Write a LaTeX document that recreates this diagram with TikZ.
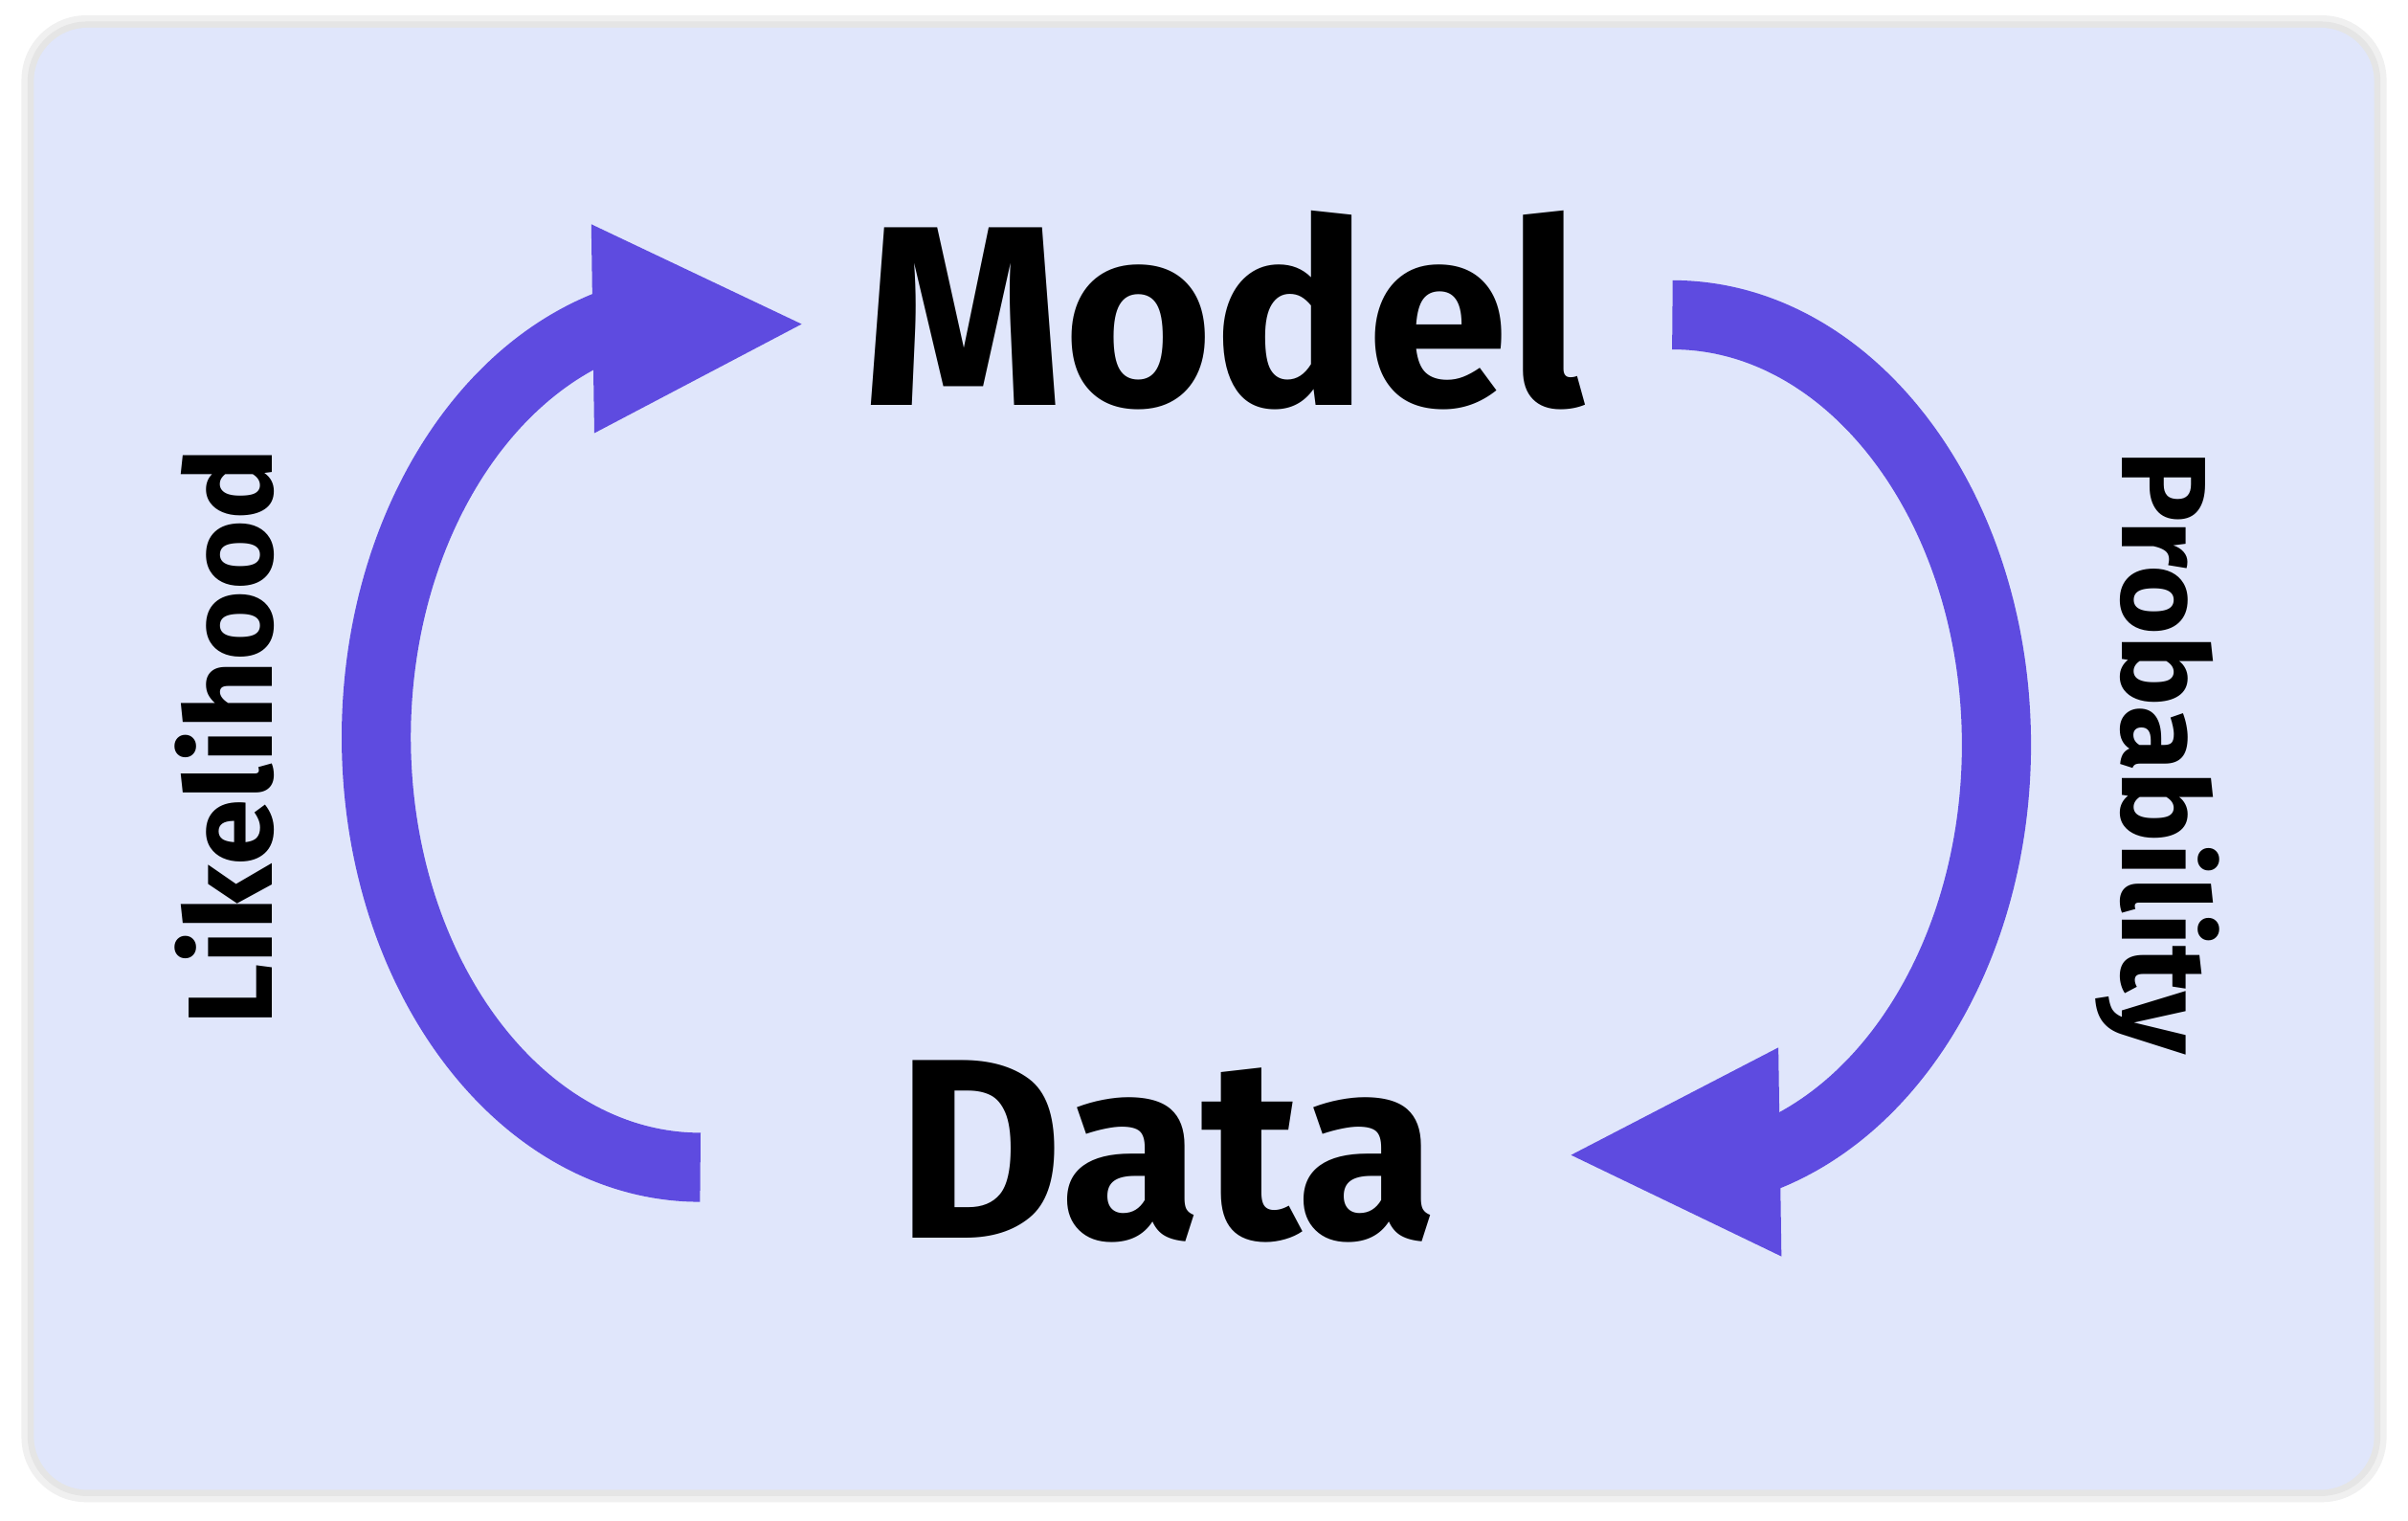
\documentclass[tikz,border=0pt]{standalone}
\usepackage{fontspec}
\setmainfont{Fira Sans}
\begin{document}
\begin{tikzpicture}[x=0.02cm,y=-0.02cm,
  arc/.style={draw=arrowc,line width=0.9cm},
  head/.style={fill=arrowc},
  big/.style={font=\fontsize{95}{95}\selectfont\bfseries},
  side/.style={font=\fontsize{44.5}{44.5}\selectfont\bfseries}]
\definecolor{arrowc}{HTML}{5E4BE0}
\definecolor{bgc}{HTML}{E0E6FB}
\useasboundingbox (0,0) rectangle (1568,990);
\fill[white] (0,0) rectangle (1568,990);
\fill[black!6,rounded corners=24] (14,10) rectangle (1554,978);
\fill[black!10,rounded corners=22] (18,14) rectangle (1550,974);
\fill[bgc,rounded corners=20] (22,18) rectangle (1546,970);
\draw[arc] (456,760) arc[start angle=90,end angle=256,x radius=211,y radius=280];
\fill[head] (385,146) -- (387,282) -- (522,211) -- cycle;
\draw[arc] (1089,205) arc[start angle=-90,end angle=76,x radius=211,y radius=280];
\fill[head] (1158,682) -- (1160,818) -- (1023,752) -- cycle;
\node[big] (model) at (797,202) {Model};
\node[big] (data) at (760,750) {Data};
\node[side,rotate=90] (lik) at (146,480) {Likelihood};
\node[side,rotate=-90] (prob) at (1405,490) {Probability};
\end{tikzpicture}
\end{document}
